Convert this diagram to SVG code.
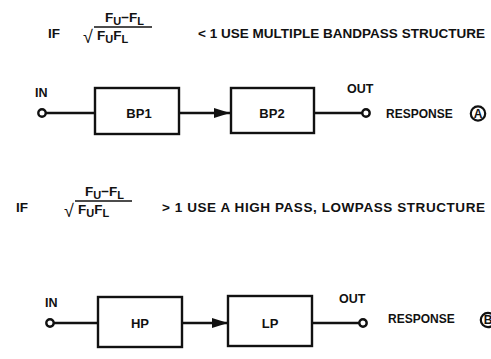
<svg xmlns="http://www.w3.org/2000/svg" width="491" height="359" viewBox="0 0 491 359">
<style>
text{font-family:"Liberation Sans",Arial,sans-serif;font-weight:bold;fill:#111}
.t{font-size:13.5px}
.f{font-size:13.5px}
.s{font-size:11px}
.rad{font-size:18px;font-weight:normal}
.lbl{font-size:12.5px}
.blbl{font-size:13px}
.resp{font-size:12px}
.box{fill:#fff;stroke:#111;stroke-width:2.4}
.wire{stroke:#111;stroke-width:2.4;fill:none}
.bar{stroke:#111;stroke-width:1.4}
.term{fill:#fff;stroke:#111;stroke-width:2.4}
.badge{fill:#fff;stroke:#111;stroke-width:2.2}
</style>
<defs>
<marker id="ah" viewBox="0 0 16 10" refX="16" refY="5" markerWidth="16" markerHeight="10" markerUnits="userSpaceOnUse" orient="auto"><path d="M0,0 L16,5 L0,10 z" fill="#111"/></marker>
</defs>
<rect width="491" height="359" fill="#fff"/>

<g id="cond-a">
<text class="t" x="48" y="38">IF</text>
<text class="f" x="105" y="22">F<tspan class="s" dy="3">U</tspan><tspan dy="-3">−F</tspan><tspan class="s" dy="3">L</tspan></text>
<line class="bar" x1="94" y1="27" x2="152" y2="27"/>
<text class="rad" x="83" y="43">√</text>
<text class="f" x="97" y="39.5">F<tspan class="s" dy="3">U</tspan><tspan dy="-3">F</tspan><tspan class="s" dy="3">L</tspan></text>
<text class="t" x="198" y="38" textLength="287" lengthAdjust="spacing">&lt; 1 USE MULTIPLE BANDPASS STRUCTURE</text>
</g>

<g id="cond-b">
<text class="t" x="16" y="212">IF</text>
<text class="f" x="85" y="196">F<tspan class="s" dy="3">U</tspan><tspan dy="-3">−F</tspan><tspan class="s" dy="3">L</tspan></text>
<line class="bar" x1="75" y1="201" x2="132" y2="201"/>
<text class="rad" x="64" y="217">√</text>
<text class="f" x="78" y="213.5">F<tspan class="s" dy="3">U</tspan><tspan dy="-3">F</tspan><tspan class="s" dy="3">L</tspan></text>
<text class="t" x="162" y="212" textLength="323" lengthAdjust="spacing">&gt; 1 USE A HIGH PASS,  LOWPASS STRUCTURE</text>
</g>

<g id="connectors">
<line class="wire" x1="46" y1="113" x2="95" y2="113"/>
<line class="wire" x1="179" y1="113" x2="230" y2="113" marker-end="url(#ah)"/>
<line class="wire" x1="314" y1="113" x2="362" y2="113"/>
<line class="wire" x1="54" y1="323" x2="98" y2="323"/>
<line class="wire" x1="182" y1="323" x2="228" y2="323" marker-end="url(#ah)"/>
<line class="wire" x1="312" y1="323" x2="359" y2="323"/>
</g>

<g id="in-a"><text class="lbl" x="35" y="97">IN</text><circle class="term" cx="42" cy="113" r="3.7"/></g>
<g id="bp1"><rect class="box" x="95" y="88" width="84" height="46"/><text class="blbl" x="139" y="117.5" text-anchor="middle">BP1</text></g>
<g id="bp2"><rect class="box" x="231" y="88" width="83" height="45"/><text class="blbl" x="272" y="117.5" text-anchor="middle">BP2</text></g>
<g id="out-a"><text class="lbl" x="347" y="93">OUT</text><circle class="term" cx="366" cy="113" r="3.7"/><text class="resp" x="386" y="118">RESPONSE</text></g>
<g id="resp-a"><circle class="badge" cx="478" cy="113.5" r="7.2"/><text x="478" y="117.8" font-size="12px" text-anchor="middle">A</text></g>

<g id="in-b"><text class="lbl" x="45" y="307">IN</text><circle class="term" cx="50" cy="323" r="3.7"/></g>
<g id="hp"><rect class="box" x="98" y="297" width="84" height="50"/><text class="blbl" x="140" y="327.5" text-anchor="middle">HP</text></g>
<g id="lp"><rect class="box" x="228" y="296" width="84" height="50"/><text class="blbl" x="270" y="327.5" text-anchor="middle">LP</text></g>
<g id="out-b"><text class="lbl" x="339" y="303">OUT</text><circle class="term" cx="363" cy="323" r="3.7"/><text class="resp" x="388" y="323">RESPONSE</text></g>
<g id="resp-b"><circle class="badge" cx="488" cy="320" r="7.2"/><text x="488" y="324.3" font-size="12px" text-anchor="middle">B</text></g>
</svg>
